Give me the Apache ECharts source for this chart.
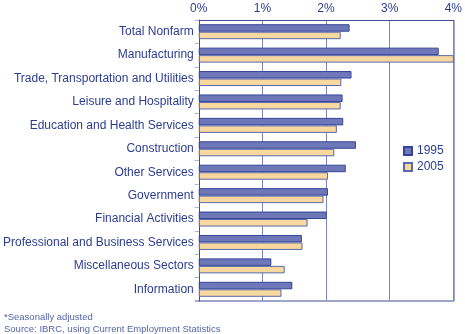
<!DOCTYPE html>
<html><head><meta charset="utf-8">
<script src="https://cdn.jsdelivr.net/npm/echarts@6/dist/echarts.min.js"></script>
<style>html,body{margin:0;padding:0;background:#fff}#c{width:465px;height:334px}</style>
</head><body><div id="c"></div>
<script>
const categories = ["Total Nonfarm","Manufacturing","Trade, Transportation and Utilities","Leisure and Hospitality","Education and Health Services","Construction","Other Services","Government","Financial Activities","Professional and Business Services","Miscellaneous Sectors","Information"];
const values1995 = [2.37,3.77,2.40,2.26,2.27,2.47,2.31,2.03,2.01,1.62,1.14,1.47];
const values2005 = [2.23,4.02,2.24,2.23,2.17,2.13,2.03,1.96,1.71,1.63,1.35,1.30];
const seriesNames = ["1995","2005"];
const tickLabels = ["0%","1%","2%","3%","4%"];
const notes = ["*Seasonally adjusted","Source: IBRC, using Current Employment Statistics"];

const txt = '#2b3d91';
const chart = echarts.init(document.getElementById('c'), null, {renderer:'canvas'});
chart.setOption({
  animation:false,
  textStyle:{fontFamily:'Liberation Sans, Arial, sans-serif'},
  grid:{left:195,right:11,top:20,bottom:33,containLabel:false},
  xAxis:{type:'value',position:'top',min:0,max:4,interval:1,
    axisLabel:{formatter:(v)=>tickLabels[Math.round(v)],color:txt,fontSize:12,margin:5},
    axisLine:{show:true,lineStyle:{color:'#3c4c9c'}},axisTick:{show:false},
    splitLine:{show:true,lineStyle:{color:'#7d88c2',width:1}}},
  yAxis:{type:'category',data:categories,inverse:true,
    axisLabel:{color:txt,fontSize:12,margin:5},
    axisLine:{show:true,lineStyle:{color:'#3c4c9c'}},
    axisTick:{show:true,length:4,lineStyle:{color:'#a9b1d8'}}},
  legend:{orient:'vertical',left:398,top:140,itemWidth:8,itemHeight:8,itemGap:4,
    textStyle:{color:txt,fontSize:12},icon:'rect',data:seriesNames},
  graphic:[
    {type:'line',shape:{x1:195,y1:301,x2:454,y2:301},style:{stroke:'#3c4c9c',lineWidth:1}},
    {type:'line',shape:{x1:454,y1:20,x2:454,y2:301},style:{stroke:'#9aa4d2',lineWidth:2}},
    {type:'text',left:4,top:312,style:{text:notes[0],fill:'#5566aa',fontSize:9.5,fontFamily:'Liberation Sans, Arial, sans-serif'}},
    {type:'text',left:4,top:324,style:{text:notes[1],fill:'#5566aa',fontSize:9.5,fontFamily:'Liberation Sans, Arial, sans-serif'}}
  ],
  series:[
    {name:seriesNames[0],type:'bar',data:values1995,barGap:'0%',barCategoryGap:'36%',
      itemStyle:{color:'#6e77b8',borderColor:'#34449a',borderWidth:1}},
    {name:seriesNames[1],type:'bar',data:values2005,barGap:'0%',barCategoryGap:'36%',
      itemStyle:{color:'#f9d8a0',borderColor:'#5a68ac',borderWidth:1}}
  ]
});
</script></body></html>
